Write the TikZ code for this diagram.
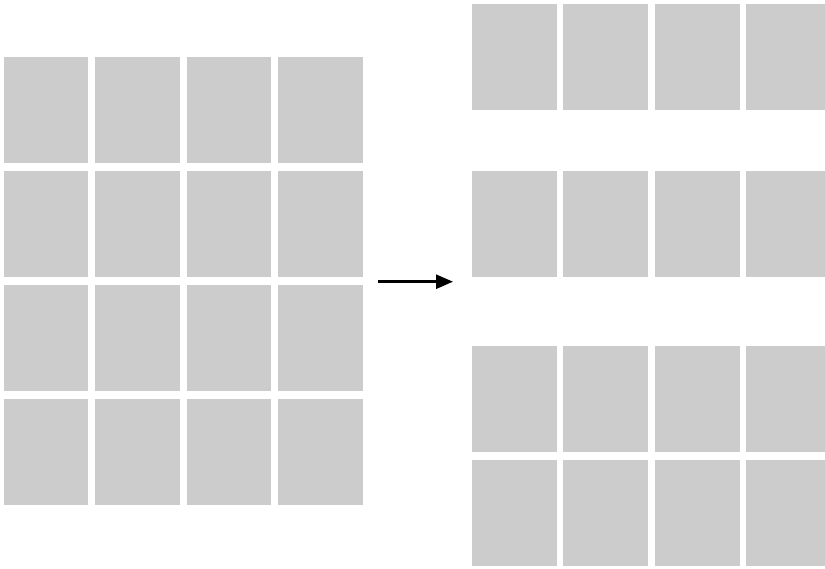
\documentclass[tikz,border=0pt]{standalone}
\usetikzlibrary{arrows.meta}
\definecolor{tilegray}{HTML}{CCCCCC}
\tikzset{
  tileL/.style={fill=tilegray, draw=none, inner sep=0pt, outer sep=0pt, anchor=north west, minimum width=84.5pt, minimum height=105.5pt},
  tileR/.style={fill=tilegray, draw=none, inner sep=0pt, outer sep=0pt, anchor=north west, minimum width=85pt, minimum height=106pt},
  flowarrow/.style={line width=2.6pt, -{Triangle[length=17pt,width=14pt]}}
}
\begin{document}
\begin{tikzpicture}[x=1pt,y=-1pt]
\useasboundingbox[fill=white] (0,0) rectangle (825,568);
% left grid 4x4
\foreach \r/\y in {1/57,2/171,3/285,4/399}{
  \foreach \c/\x in {1/3.5,2/95,3/186.5,4/278}{
    \node[tileL] (L\r\c) at (\x,\y) {};
  }
}
% right groups
\foreach \r/\y in {1/4,2/170.7,3/345.7,4/460}{
  \foreach \c/\x in {1/472,2/563.3,3/654.6,4/746}{
    \node[tileR] (R\r\c) at (\x,\y) {};
  }
}
\coordinate (a0) at (378,281.7);
\coordinate (a1) at (453,281.7);
\draw[flowarrow] (a0) -- (a1);
\end{tikzpicture}
\end{document}
